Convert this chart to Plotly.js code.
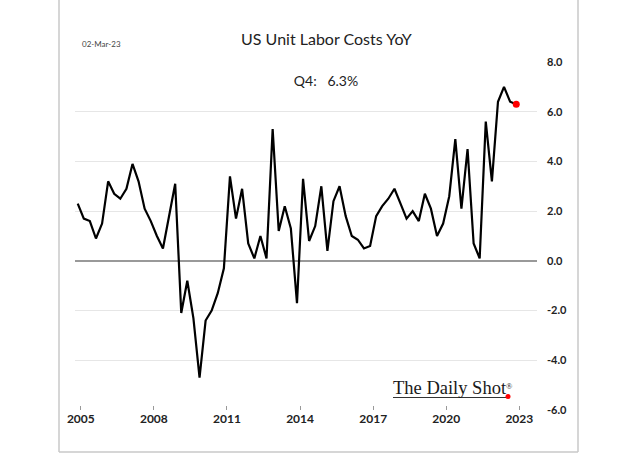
<!DOCTYPE html>
<html>
<head>
<meta charset="utf-8">
<script src="https://cdn.plot.ly/plotly-3.0.1.min.js"></script>
<style>
html,body{margin:0;padding:0;background:#fff;}
#chart{width:640px;height:453px;}
</style>
</head>
<body>
<div id="chart"></div>
<script>
// Quarter start dates (points drawn at middle of each quarter)
const quarters = [
"2004-10-01",
"2005-01-01","2005-04-01","2005-07-01","2005-10-01",
"2006-01-01","2006-04-01","2006-07-01","2006-10-01",
"2007-01-01","2007-04-01","2007-07-01","2007-10-01",
"2008-01-01","2008-04-01","2008-07-01","2008-10-01",
"2009-01-01","2009-04-01","2009-07-01","2009-10-01",
"2010-01-01","2010-04-01","2010-07-01","2010-10-01",
"2011-01-01","2011-04-01","2011-07-01","2011-10-01",
"2012-01-01","2012-04-01","2012-07-01","2012-10-01",
"2013-01-01","2013-04-01","2013-07-01","2013-10-01",
"2014-01-01","2014-04-01","2014-07-01","2014-10-01",
"2015-01-01","2015-04-01","2015-07-01","2015-10-01",
"2016-01-01","2016-04-01","2016-07-01","2016-10-01",
"2017-01-01","2017-04-01","2017-07-01","2017-10-01",
"2018-01-01","2018-04-01","2018-07-01","2018-10-01",
"2019-01-01","2019-04-01","2019-07-01","2019-10-01",
"2020-01-01","2020-04-01","2020-07-01","2020-10-01",
"2021-01-01","2021-04-01","2021-07-01","2021-10-01",
"2022-01-01","2022-04-01","2022-07-01","2022-10-01"
];
// US Unit Labor Costs, YoY %
const ulcYoY = [
2.3,
1.7,1.6,0.9,1.5,
3.2,2.7,2.5,2.9,
3.9,3.2,2.1,1.6,
1.0,0.5,1.8,3.1,
-2.1,-0.8,-2.3,-4.7,
-2.4,-2.0,-1.3,-0.3,
3.4,1.7,2.9,0.7,
0.1,1.0,0.1,5.3,
1.2,2.2,1.3,-1.7,
3.3,0.8,1.4,3.0,
0.4,2.4,3.0,1.8,
1.0,0.85,0.5,0.6,
1.8,2.2,2.5,2.9,
2.3,1.7,2.0,1.6,
2.7,2.1,1.0,1.5,
2.6,4.9,2.1,4.5,
0.7,0.1,5.6,3.2,
6.4,7.0,6.4,6.3
];
const yearTickVals = ["2005-01-01","2008-01-01","2011-01-01","2014-01-01","2017-01-01","2020-01-01","2023-01-01"];
const yearTickText = ["2005","2008","2011","2014","2017","2020","2023"];
const yTickVals = [-6, -4, -2, 0, 2, 4, 6, 8];
const yTickText = ["-6.0", "-4.0", "-2.0", "0.0", "2.0", "4.0", "6.0", "8.0"];
const lastLabel = "Q4:\u00a0\u00a0\u00a0" + ulcYoY[ulcYoY.length-1].toFixed(1) + "%";

const traces = [
  {
    x: quarters, y: ulcYoY, type: "scatter", mode: "lines",
    xperiod: "M3", xperiodalignment: "middle",
    line: {color: "#000", width: 2.2},
    hoverinfo: "x+y"
  },
  {
    x: [quarters[quarters.length-1]], y: [ulcYoY[ulcYoY.length-1]],
    type: "scatter", mode: "markers",
    xperiod: "M3", xperiodalignment: "middle",
    marker: {color: "#ff0000", size: 7},
    hoverinfo: "x+y"
  }
];

const layout = {
  width: 640, height: 453,
  margin: {l: 75, r: 103, t: 62, b: 43},
  paper_bgcolor: "#fff", plot_bgcolor: "#fff",
  showlegend: false,
  font: {family: "Lato, 'Open Sans', sans-serif", color: "#222"},
  title: {
    text: "US Unit Labor Costs YoY",
    x: 0.51, xanchor: "center",
    y: 0.914, yanchor: "middle",
    font: {size: 16, color: "#222", family: "Lato, sans-serif"}
  },
  xaxis: {
    type: "date",
    range: ["2004-10-06", "2023-09-23"],
    tickmode: "array", tickvals: yearTickVals, ticktext: yearTickText,
    showgrid: false, zeroline: false, showline: false,
    ticks: "inside", ticklen: 4, tickcolor: "#999", tickwidth: 1,
    tickfont: {size: 12, color: "#222", family: "Lato, sans-serif", weight: "bold"},
    fixedrange: true
  },
  yaxis: {
    range: [-6, 8],
    tickmode: "array", tickvals: yTickVals, ticktext: yTickText,
    side: "right",
    showgrid: true, gridcolor: "#e6e6e6", gridwidth: 1,
    zeroline: true, zerolinecolor: "#999", zerolinewidth: 2,
    showline: false, ticks: "",
    ticklabelstandoff: 9,
    tickfont: {size: 11, color: "#222", family: "Lato, sans-serif", weight: "bold"},
    fixedrange: true
  },
  annotations: [
    {
      text: lastLabel, xref: "paper", yref: "paper",
      x: (326-75)/462, y: (410-80)/348, xanchor: "center", yanchor: "middle",
      showarrow: false, bgcolor: "#fff", width: 106, height: 40,
      font: {size: 14, color: "#222", family: "Lato, sans-serif"}
    },
    {
      text: "02-Mar-23", xref: "paper", yref: "paper",
      x: (101-75)/462, y: (410-44)/348, xanchor: "center", yanchor: "middle",
      showarrow: false,
      font: {size: 8, color: "#444", family: "Lato, sans-serif"}
    },
    {
      text: "The Daily Shot<span style='font-size:12px'><sup>®</sup></span>", xref: "paper", yref: "paper",
      x: (391-75)/462, y: (410-388)/348, xanchor: "left", yanchor: "middle",
      showarrow: false,
      font: {size: 18.5, color: "#1a1a1a", family: "'Liberation Serif', 'DejaVu Serif', serif"}
    }
  ],
  shapes: [
    {type: "line", xref: "paper", yref: "paper", x0: (393-75)/462, x1: (506-75)/462,
     y0: (410-397.5)/348, y1: (410-397.5)/348, line: {color: "#333", width: 1}},
    {type: "circle", xref: "paper", yref: "paper",
     x0: (505.5-75)/462, x1: (510.5-75)/462, y0: (410-399)/348, y1: (410-394)/348,
     fillcolor: "#ff0000", line: {width: 0}},
    {type: "line", xref: "paper", yref: "paper", x0: (59-75)/462, x1: (59-75)/462,
     y0: (410-452)/348, y1: (410-0)/348, line: {color: "#c8c8c8", width: 1.5}},
    {type: "line", xref: "paper", yref: "paper", x0: (578-75)/462, x1: (578-75)/462,
     y0: (410-452)/348, y1: (410-0)/348, line: {color: "#c8c8c8", width: 1.5}},
    {type: "line", xref: "paper", yref: "paper", x0: (59-75)/462, x1: (578-75)/462,
     y0: (410-452)/348, y1: (410-452)/348, line: {color: "#c8c8c8", width: 1.5}}
  ]
};

Plotly.newPlot("chart", traces, layout, {displayModeBar: false, staticPlot: true});
</script>
</body>
</html>
